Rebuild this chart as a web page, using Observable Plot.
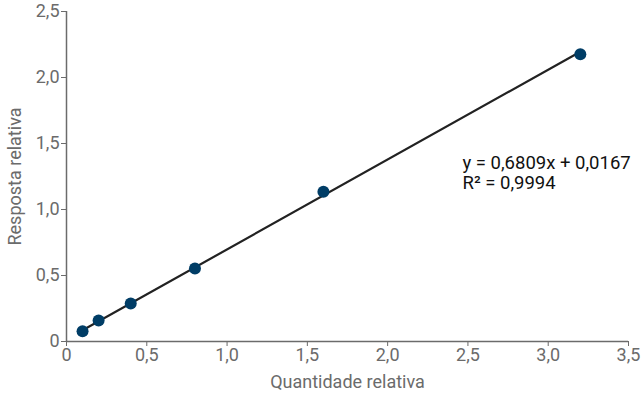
<!DOCTYPE html>
<html><head><meta charset="utf-8">
<script src="https://cdn.jsdelivr.net/npm/d3@7"></script>
<script src="https://cdn.jsdelivr.net/npm/@observablehq/plot@0.6"></script>
<style>body{margin:0;background:#fff;font-family:Roboto,sans-serif}</style>
</head><body><div id="chart"></div>
<script>
const quantidade = [0.1, 0.2, 0.4, 0.8, 1.6, 3.2];
const resposta = [0.078, 0.159, 0.288, 0.553, 1.135, 2.177];
const slope = 0.6809, intercept = 0.0167;
const eqLines = ["y = 0,6809x + 0,0167", "R² = 0,9994"];
const xTicks = [0, 0.5, 1, 1.5, 2, 2.5, 3, 3.5];
const yTicks = [0, 0.5, 1, 1.5, 2, 2.5];
const fmt = d => d === 0 ? "0" : d.toFixed(1).replace(".", ",");

const pts = quantidade.map((x, i) => ({x, y: resposta[i]}));
const fitLine = [quantidade[0], quantidade[quantidade.length-1]].map(x => ({x, y: slope*x + intercept}));
const gray = "#6b6b6b";

const plot = Plot.plot({
  width: 642, height: 396,
  marginLeft: 66, marginRight: 14, marginTop: 11, marginBottom: 55,
  style: {fontFamily: "Roboto, sans-serif", fontSize: "18px", background: "#fff"},
  x: {domain: [0, 3.5]},
  y: {domain: [0, 2.5]},
  marks: [
    Plot.axisX({ticks: xTicks, tickFormat: fmt, tickSize: 5, tickPadding: 2, color: gray, fontSize: 18,
      label: "Quantidade relativa", labelAnchor: "center", labelArrow: "none", labelOffset: 46}),
    Plot.axisY({ticks: yTicks, tickFormat: fmt, tickSize: 5, tickPadding: 2, color: gray, fontSize: 18,
      label: "Resposta relativa", labelAnchor: "center", labelArrow: "none", labelOffset: 58}),
    Plot.ruleX([0], {stroke: gray, strokeWidth: 1.5}),
    Plot.ruleY([0], {stroke: gray, strokeWidth: 1.5}),
    Plot.line(fitLine, {x: "x", y: "y", stroke: "#222", strokeWidth: 2.2}),
    Plot.dot(pts, {x: "x", y: "y", r: 6, fill: "#003d66", stroke: "none"}),
    Plot.text([eqLines[0]], {frameAnchor: "top-left", dx: 396, dy: 152, text: d => d, textAnchor: "start", lineAnchor: "middle", fill: "#111", fontSize: "18.5px"}),
    Plot.text([eqLines[1]], {frameAnchor: "top-left", dx: 396, dy: 172, text: d => d, textAnchor: "start", lineAnchor: "middle", fill: "#111", fontSize: "18.5px"})
  ]
});
document.getElementById("chart").append(plot);
</script></body></html>
